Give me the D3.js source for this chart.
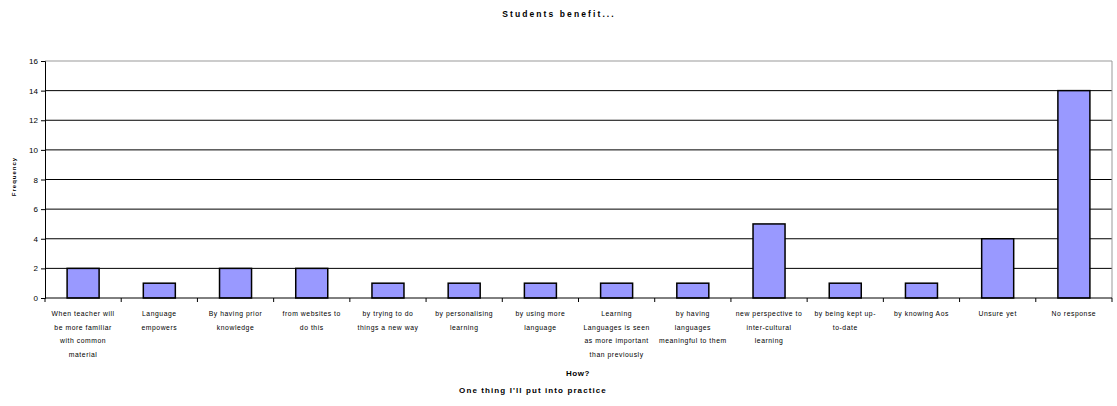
<!DOCTYPE html>
<html>
<head>
<meta charset="utf-8">
<script src="https://cdn.jsdelivr.net/npm/d3@7"></script>
<style>
  body { margin: 0; background: #fff; }
  svg text { font-family: "Liberation Sans", Arial, sans-serif; fill: #000; }
</style>
</head>
<body>
<svg id="chart" width="1117" height="406"></svg>
<script>
'use strict';

// data
const categories = [
  ['When teacher will', 'be more familiar', 'with common', 'material'],
  ['Language', 'empowers'],
  ['By having prior', 'knowledge'],
  ['from websites to', 'do this'],
  ['by trying to do', 'things a new way'],
  ['by personalising', 'learning'],
  ['by using more', 'language'],
  ['Learning', 'Languages is seen', 'as more important', 'than previously'],
  ['by having', 'languages', 'meaningful to them'],
  ['new perspective to', 'inter-cultural', 'learning'],
  ['by being kept up-', 'to-date'],
  ['by knowing Aos'],
  ['Unsure yet'],
  ['No response']
];
const frequency = [2, 1, 2, 2, 1, 1, 1, 1, 1, 5, 1, 1, 4, 14];
const yTicks = [0, 2, 4, 6, 8, 10, 12, 14, 16];

const svg = d3.select('#chart');
const margin = {top: 61, right: 5, bottom: 108, left: 45};
const width = 1117 - margin.left - margin.right;
const height = 406 - margin.top - margin.bottom;

const x = d3.scaleBand()
  .domain(d3.range(categories.length))
  .range([0, width])
  .paddingInner(0.58)
  .paddingOuter(0.29);
const y = d3.scaleLinear().domain([0, 16]).range([height, 0]);

const g = svg.append('g')
  .attr('transform', 'translate(' + margin.left + ',' + margin.top + ')');

// gridlines
g.selectAll('.grid')
  .data(yTicks.slice(1))
  .enter().append('line')
    .attr('x1', 0).attr('x2', width)
    .attr('y1', d => y(d)).attr('y2', d => y(d))
    .attr('stroke', d => d === 16 ? '#999' : '#000')
    .attr('stroke-width', 1);

// right border
g.append('line')
  .attr('x1', width).attr('x2', width)
  .attr('y1', 0).attr('y2', height)
  .attr('stroke', '#999');

// bars
g.selectAll('.bar')
  .data(frequency)
  .enter().append('rect')
    .attr('x', (d, i) => x(i))
    .attr('y', d => y(d))
    .attr('width', x.bandwidth())
    .attr('height', d => height - y(d))
    .attr('fill', '#9999ff')
    .attr('stroke', '#000')
    .attr('stroke-width', 1.5);

// y axis
const yAxis = g.append('g')
  .call(d3.axisLeft(y).tickValues(yTicks).tickSize(4).tickPadding(3));
yAxis.select('.domain').attr('stroke', '#000');
yAxis.selectAll('text').style('font-size', '8px');

// x axis with boundary ticks
const xAxis = g.append('g').attr('transform', 'translate(0,' + height + ')');
xAxis.append('line')
  .attr('x1', 0).attr('x2', width)
  .attr('stroke', '#000');
xAxis.selectAll('.tick')
  .data(d3.range(categories.length + 1))
  .enter().append('line')
    .attr('x1', i => i * width / categories.length)
    .attr('x2', i => i * width / categories.length)
    .attr('y1', 0).attr('y2', 4)
    .attr('stroke', '#000');

const labels = xAxis.selectAll('.lbl')
  .data(categories)
  .enter().append('text')
    .attr('text-anchor', 'middle')
    .attr('transform', (d, i) => 'translate(' + (x(i) + x.bandwidth() / 2) + ',0)')
    .style('font-size', '6.8px')
    .style('letter-spacing', '0.55px');
labels.selectAll('tspan')
  .data(d => d)
  .enter().append('tspan')
    .attr('x', 0)
    .attr('y', (d, i) => 18 + i * 13.7)
    .text(d => d);

// titles
svg.append('text')
  .attr('x', 559).attr('y', 17)
  .attr('text-anchor', 'middle')
  .style('font-size', '8.5px').style('font-weight', 'bold')
  .style('letter-spacing', '2.1px')
  .text('Students benefit...');

svg.append('text')
  .attr('x', 578).attr('y', 376)
  .attr('text-anchor', 'middle')
  .style('font-size', '8px').style('font-weight', 'bold')
  .style('letter-spacing', '0.6px')
  .text('How?');

svg.append('text')
  .attr('x', 533).attr('y', 393)
  .attr('text-anchor', 'middle')
  .style('font-size', '8px').style('font-weight', 'bold')
  .style('letter-spacing', '1.1px')
  .text("One thing I'll put into practice");

svg.append('text')
  .attr('transform', 'translate(16,' + (margin.top + height / 2 - 3) + ') rotate(-90)')
  .attr('text-anchor', 'middle')
  .style('font-size', '6px').style('font-weight', 'bold')
  .style('letter-spacing', '1px')
  .text('Frequency');
</script>
</body>
</html>
